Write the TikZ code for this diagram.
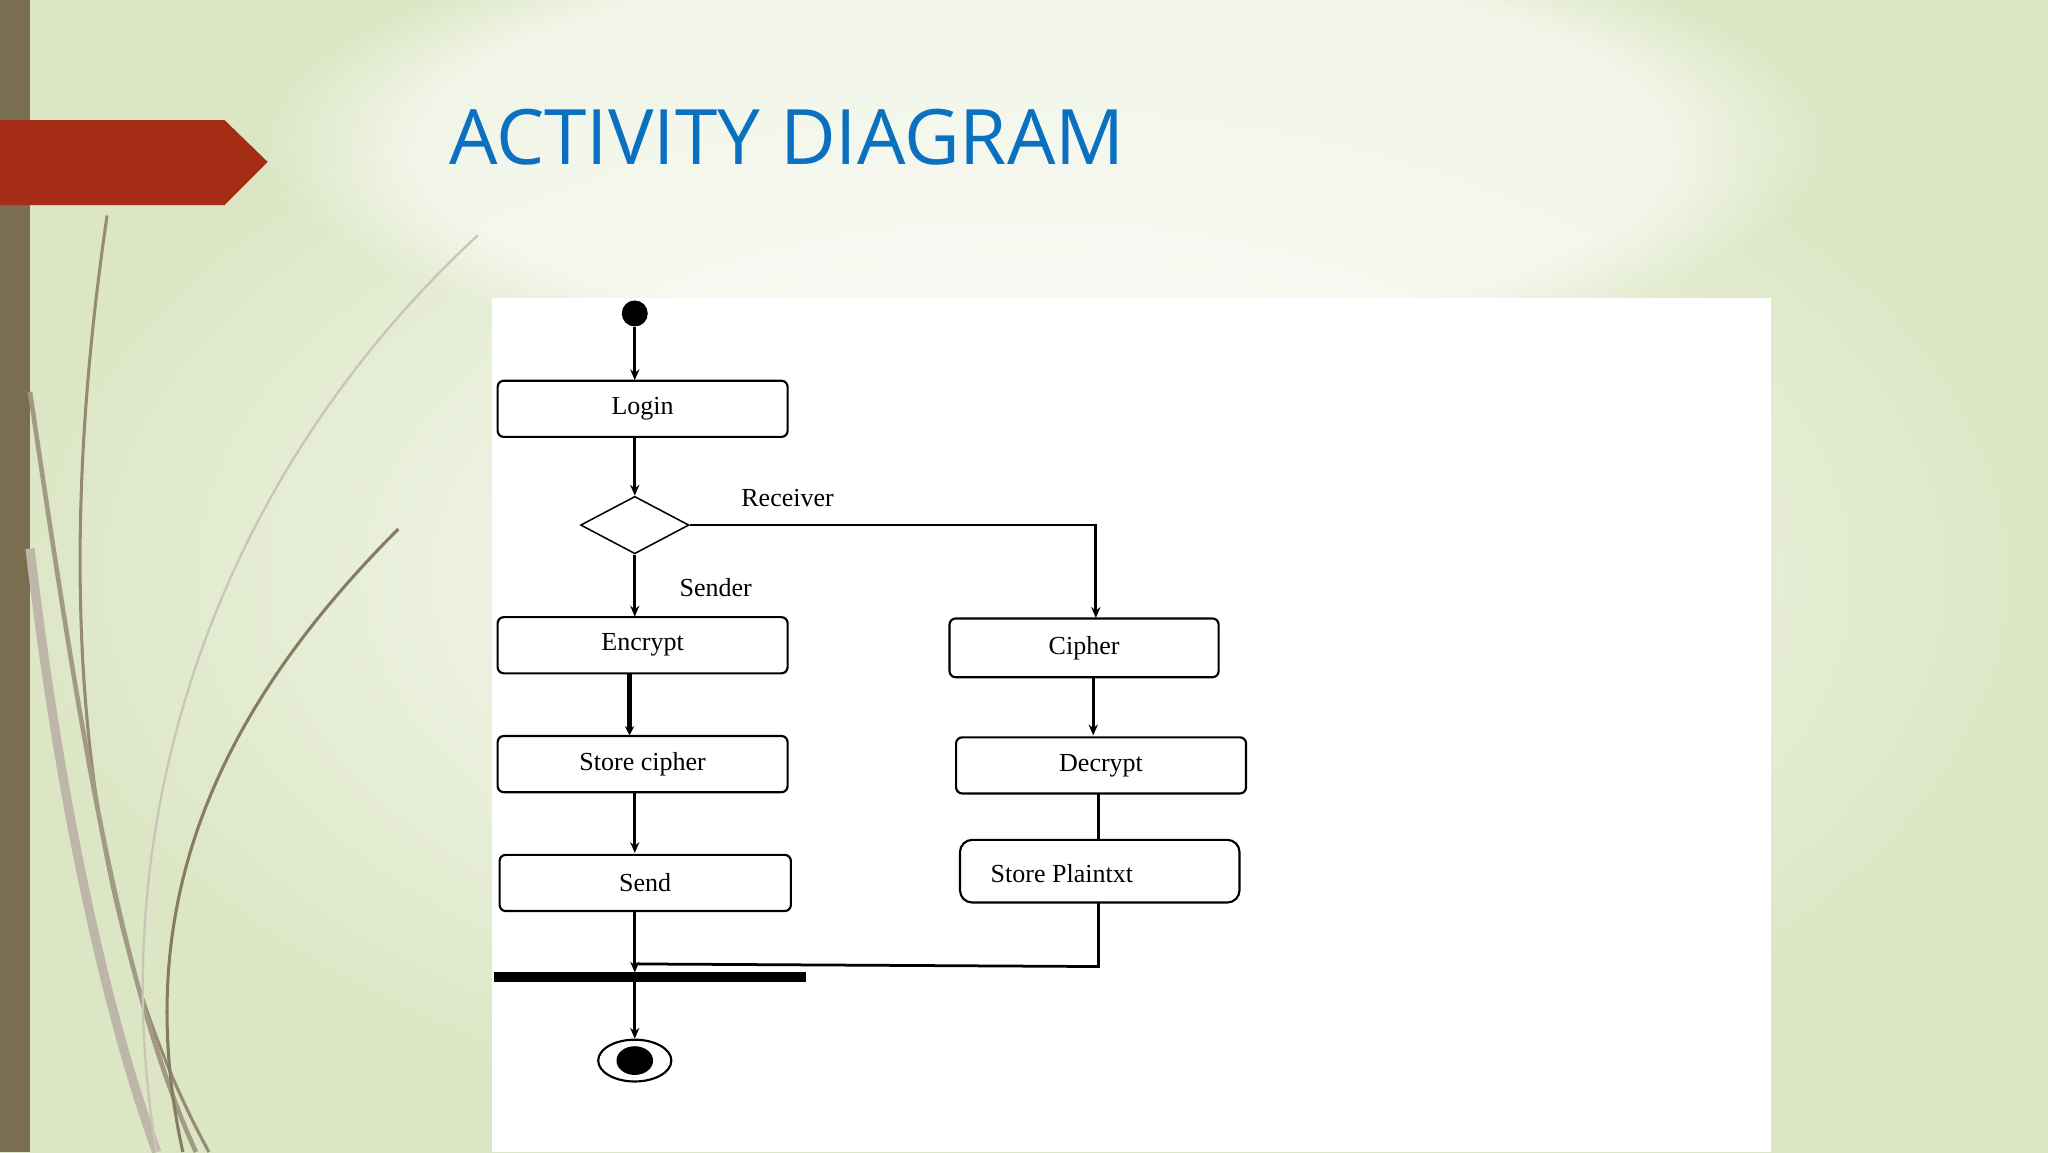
\documentclass[tikz,border=0pt]{standalone}
\usepackage{fontspec}
\setmainfont{Liberation Serif}
\newfontfamily\titlefont{Open Sans}
\usetikzlibrary{shapes.geometric,arrows.meta,fadings}
\definecolor{bgg}{HTML}{DCE6C4}
\definecolor{barc}{HTML}{7A6E50}
\definecolor{redc}{HTML}{A52C15}
\definecolor{titc}{HTML}{0A70C0}
\begin{document}
\begin{tikzpicture}[x=0.03cm,y=-0.03cm,
  box/.style={draw,line width=1.4pt,rounded corners=4pt,font=\fontsize{17}{19}\selectfont},
  lab/.style={font=\fontsize{17}{19}\selectfont},
  con/.style={line width=1.8pt},
  arr/.style={con,-{Stealth[length=7pt,width=6pt]}}]
\useasboundingbox (0,0) rectangle (1568,882);
\shade[inner color=white,outer color=bgg] (0,0) rectangle (1568,882);
\fill[white,opacity=0.6,path fading=circle with fuzzy edge 20 percent] (800,110) ellipse (600 and 180);
\fill[barc] (0,0) rectangle (23,882);
\draw[barc!80,line width=2pt] (82,165) .. controls (40,450) and (60,700) .. (160,882);
\draw[barc!70,line width=3pt] (23,300) .. controls (60,550) and (90,750) .. (150,882);
\draw[barc!50,line width=6pt] (23,420) .. controls (50,650) and (90,800) .. (120,882);
\draw[barc!40,line width=1.5pt] (366,180) .. controls (150,380) and (80,650) .. (120,882);
\draw[barc!90,line width=2pt] (305,405) .. controls (160,550) and (100,700) .. (140,882);
\fill[redc] (0,92) -- (172,92) -- (205,124) -- (172,157) -- (0,157) -- cycle;
\node[anchor=west,text=titc,font=\titlefont\fontsize{50}{56}\selectfont] (title) at (340,105) {ACTIVITY DIAGRAM};
\fill[white] (377,228) rectangle (1356,882);
% nodes
\node[circle,fill,inner sep=0,minimum size=17] (start) at (486,240) {};
\node[box,minimum width=222*0.03cm,minimum height=43*0.03cm] (login) at (492,313) {Login};
\node[diamond,draw,line width=1pt,minimum width=83*0.03cm,minimum height=44*0.03cm,inner sep=0,aspect=1.9] (dec) at (486,402) {};
\node[lab] (recv) at (603,381) {Receiver};
\node[lab] (send) at (548,450) {Sender};
\node[box,minimum width=222*0.03cm,minimum height=43*0.03cm] (enc) at (492,494) {Encrypt};
\node[box,minimum width=206*0.03cm,minimum height=45*0.03cm] (ciph) at (830,496) {Cipher};
\node[box,minimum width=222*0.03cm,minimum height=43*0.03cm] (stc) at (492,585) {Store cipher};
\node[box,minimum width=222*0.03cm,minimum height=43*0.03cm] (decr) at (843,586) {Decrypt};
\node[box,minimum width=223*0.03cm,minimum height=43*0.03cm] (sendb) at (494,676) {Send};
\node[box,minimum width=214*0.03cm,minimum height=48*0.03cm,rounded corners=8pt] (stp) at (842,667) {};
\node[lab] (stpt) at (813,669) {Store Plaintxt};
\fill (378,744.5) rectangle (617,751.5);
\coordinate (bar) at (486,744.5);
\coordinate (barb) at (486,751.5);
\node[ellipse,draw,line width=1.4pt,minimum width=56*0.03cm,minimum height=32*0.03cm,inner sep=0] (end) at (486,812) {};
\fill (486,812) ellipse (14 and 11);
% connectors
\draw[arr] (start) -- (486,291);
\draw[arr] (486,335) -- (dec.north);
\draw[arr] (dec.east) -- (839,402) -- (839,473);
\draw[arr] (dec.south) -- (486,472);
\draw[con,line width=2.8pt,-{Stealth[length=6pt,width=6pt]}] (482,516) -- (482,563);
\draw[arr] (486,606) -- (486,653);
\draw[arr] (837,519) -- (837,563);
\draw[con] (841,607) -- (841,643);
\draw[arr] (486,697) -- (bar);
\draw[con] (841,691) -- (841,740) -- (486,738);
\draw[arr] (barb) -- (end.north);
\end{tikzpicture}
\end{document}
